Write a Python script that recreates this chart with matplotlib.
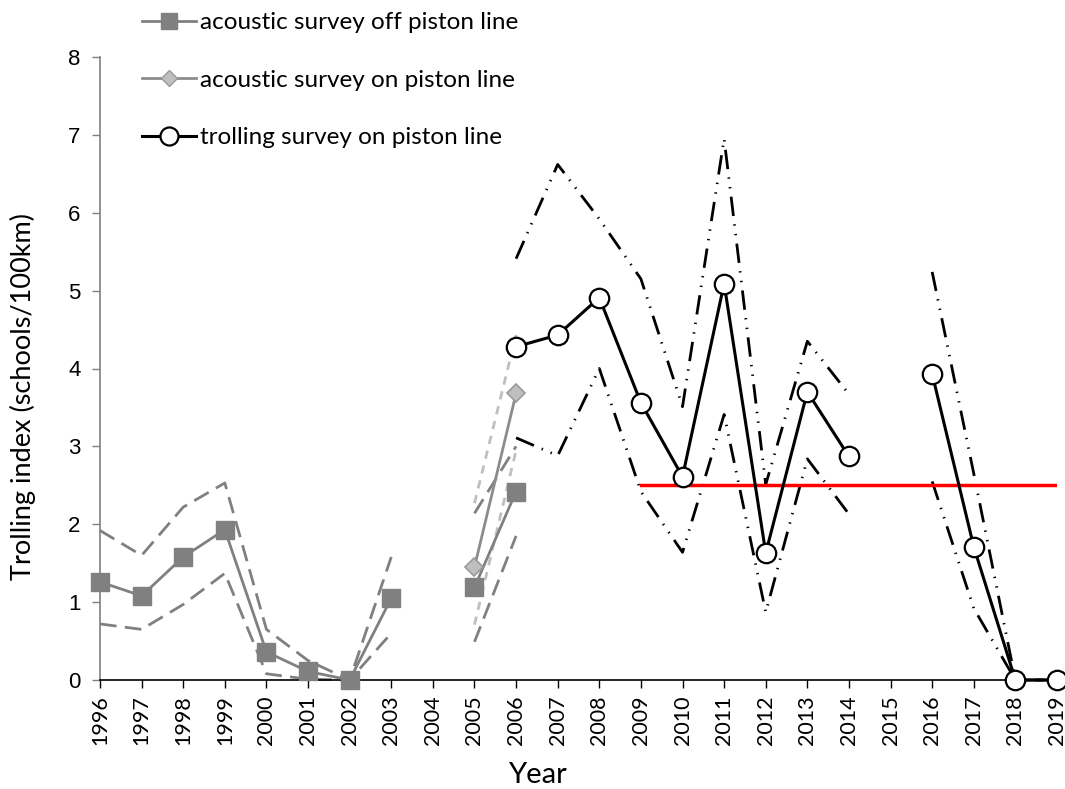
import numpy as np
import matplotlib
matplotlib.use('Agg')
from matplotlib import pyplot as plt
from matplotlib.lines import Line2D

nan = np.nan

years = [str(y) for y in range(1996, 2020)]

# acoustic survey off piston line (1996-2006)
off_mean = [1.26, 1.08, 1.58, 1.93, 0.36, 0.11, 0.0, 1.05, nan, 1.19, 2.42]
off_upper = [1.92, 1.60, 2.22, 2.53, 0.65, 0.25, 0.0, 1.58, nan, 2.14, 3.0]
off_lower = [0.72, 0.65, 0.97, 1.37, 0.08, 0.01, 0.0, 0.60, nan, 0.49, 1.85]

# acoustic survey on piston line (2005-2006)
on_mean = [1.45, 3.68]
on_upper = [2.27, 4.43]
on_lower = [0.71, 2.95]

# trolling survey on piston line (2006-2019)
troll_mean = [4.28, 4.43, 4.91, 3.56, 2.61, 5.09, 1.63, 3.70, 2.87, nan, 3.93, 1.71, 0.0, 0.0]
troll_upper = [5.41, 6.62, 5.92, 5.15, 3.51, 6.95, 2.51, 4.35, 3.67, nan, 5.24, 2.65, 0.0, 0.0]
troll_lower = [3.11, 2.88, 4.00, 2.42, 1.64, 3.41, 0.87, 2.84, 2.13, nan, 2.55, 0.92, 0.0, 0.0]

ref_level = 2.5
ref_years = ['2009', '2019']

if __name__ == '__main__':
    plt.rcParams['font.family'] = ['Liberation Sans', 'DejaVu Sans']
    fig = plt.figure(figsize=(10.65, 7.89), dpi=100)
    ax = fig.add_axes([100 / 1065, 1 - 680 / 789, 957 / 1065, 623 / 789])

    x_all = np.arange(len(years))
    x_off = x_all[:11]
    x_on = x_all[9:11]
    x_troll = x_all[10:]

    dark = '#808080'
    light = '#bfbfbf'

    # confidence limits
    ax.plot(x_off, off_upper, color=dark, lw=2, dashes=(6, 3), clip_on=False)
    ax.plot(x_off, off_lower, color=dark, lw=2, dashes=(6, 3), clip_on=False)
    ax.plot(x_on, on_upper, color=light, lw=2, dashes=(3, 2.5), clip_on=False)
    ax.plot(x_on, on_lower, color=light, lw=2, dashes=(3, 2.5), clip_on=False)
    cl_style = (0, (7, 3, 0.5, 3, 0.5, 3))
    ax.plot(x_troll, troll_upper, color='black', lw=2, linestyle=cl_style, clip_on=False)
    ax.plot(x_troll, troll_lower, color='black', lw=2, linestyle=cl_style, clip_on=False)

    # reference level
    ax.plot([years.index(ref_years[0]), years.index(ref_years[1])], [ref_level, ref_level],
            color='#ff0000', lw=2.5, zorder=3)

    # means
    ax.plot(x_off, off_mean, color=dark, lw=2, marker='s', ms=13, mfc=dark, mec=dark,
            clip_on=False, zorder=4)
    ax.plot(x_on, on_mean, color='#8c8c8c', lw=2, marker='D', ms=9, mfc=light, mec='#9a9a9a',
            mew=1.2, clip_on=False, zorder=4)
    ax.plot(x_troll, troll_mean, color='black', lw=2.2, marker='o', ms=14, mfc='white',
            mec='black', mew=1.6, clip_on=False, zorder=5)

    ax.set_xlim(0, len(years) - 1)
    ax.set_ylim(0, 8)
    ax.set_xticks(x_all)
    ax.set_xticklabels(years, rotation=90, family=['Lato', 'DejaVu Sans'], fontsize=15.5)
    ax.set_yticks(range(0, 9))
    ax.tick_params(axis='y', labelsize=16, length=6, width=1, color=dark, pad=8)
    ax.tick_params(axis='x', length=6, width=1, color='black', pad=5)
    for s in ['top', 'right']:
        ax.spines[s].set_visible(False)
    ax.spines['left'].set_color(dark)
    ax.spines['left'].set_linewidth(1.2)
    ax.spines['bottom'].set_color('black')
    ax.spines['bottom'].set_linewidth(1.2)

    ax.set_xlabel('Year', family=['Lato', 'DejaVu Sans'], fontsize=21)
    ax.xaxis.set_label_coords((537 - 100) / 957, -(775 - 680) / 623)
    ax.xaxis.label.set_va('center')
    ax.set_ylabel('Trolling index (schools/100km)', family=['Lato', 'DejaVu Sans'], fontsize=19.5)
    ax.yaxis.set_label_coords(-(100 - 23) / 957, (680 - 396) / 623)
    ax.yaxis.label.set_va('center')

    handles = [
        Line2D([], [], color=dark, lw=2, marker='s', ms=12, mfc=dark, mec=dark),
        Line2D([], [], color='#8c8c8c', lw=2, marker='D', ms=8.5, mfc=light, mec='#9a9a9a'),
        Line2D([], [], color='black', lw=2.2, marker='o', ms=13, mfc='white', mec='black', mew=1.6),
    ]
    labels = ['acoustic survey off piston line', 'acoustic survey on piston line',
              'trolling survey on piston line']
    fig.legend(handles, labels, loc='upper left', bbox_to_anchor=(130 / 1065, 1.0),
               frameon=False, prop={'family': ['Lato', 'DejaVu Sans'], 'size': 17.5},
               handlelength=2.2, handletextpad=0.2, labelspacing=1.5, borderaxespad=0.1)

    fig.savefig('out.png', dpi=100)
